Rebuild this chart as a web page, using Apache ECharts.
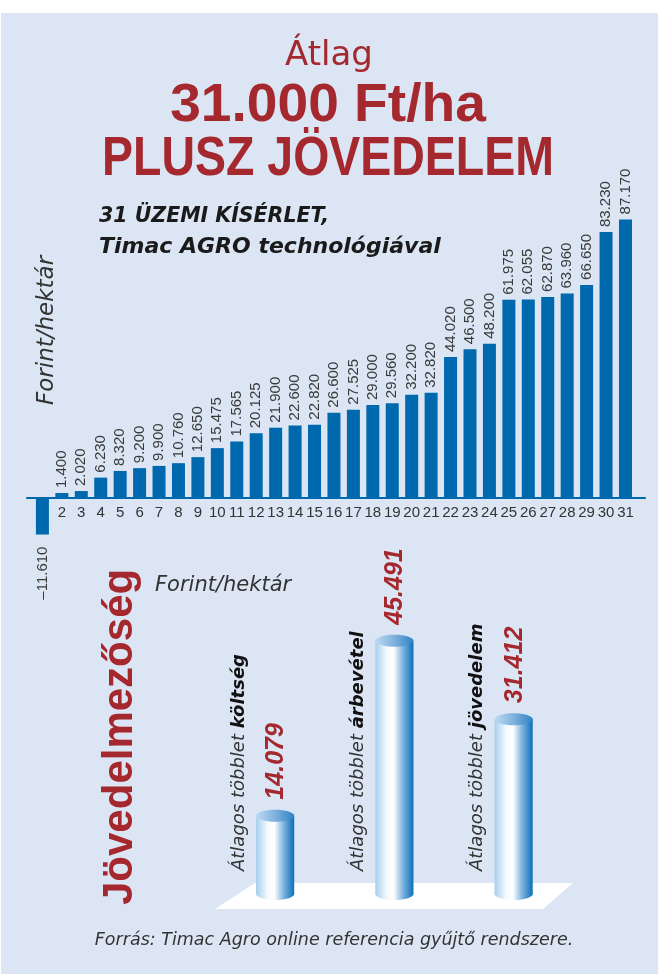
<!DOCTYPE html>
<html>
<head>
<meta charset="utf-8">
<script src="https://cdn.jsdelivr.net/npm/echarts@6/dist/echarts.min.js"></script>
<style>
  html, body { margin: 0; padding: 0; background: #fff; }
  #chart { width: 659px; height: 974px; }
</style>
</head>
<body>
<div id="chart"></div>
<script>
// 31 trials, extra income in Ft/ha
var trials = ['1','2','3','4','5','6','7','8','9','10','11','12','13','14','15','16',
  '17','18','19','20','21','22','23','24','25','26','27','28','29','30','31'];
var extraIncome = [-11610, 1400, 2020, 6230, 8320, 9200, 9900, 10760, 12650, 15475,
  17565, 20125, 21900, 22600, 22820, 26600, 27525, 29000, 29560, 32200, 32820,
  44020, 46500, 48200, 61975, 62055, 62870, 63960, 66650, 83230, 87170];

// averages, lower panel
var avgNames = ['költség', 'árbevétel', 'jövedelem'];
var avgValues = [14079, 45491, 31412];

var RED = '#a5282f';
var BLUE = '#0068ad';
var INK = '#333333';
var NUMFONT = "'Liberation Sans', sans-serif";

function huNum(v) {
  var s = String(Math.abs(v)).replace(/\B(?=(\d{3})+(?!\d))/g, '.');
  return v < 0 ? '\u2013' + s : s;
}

var myChart = echarts.init(document.getElementById('chart'));

var barData = extraIncome.map(function (v) {
  if (v < 0) {
    return { value: v, label: { position: 'bottom', align: 'right', distance: 12 } };
  }
  return v;
});

var cylData = avgValues.map(function (v, i) { return [i, v]; });

function renderCylinder(params, api) {
  var i = api.value(0);
  var top = api.coord([i, api.value(1)]);
  var base = api.coord([i, 0]);
  var w = api.size([1, 0])[0] * 0.32;
  var ry = 6;
  var cx = top[0];
  var bodyFill = new echarts.graphic.LinearGradient(0, 0, 1, 0, [
    { offset: 0, color: '#a6cfee' },
    { offset: 0.3, color: '#f4f9fd' },
    { offset: 0.48, color: '#ffffff' },
    { offset: 0.72, color: '#7fb3de' },
    { offset: 1, color: '#0a70ba' }
  ]);
  var capFill = new echarts.graphic.LinearGradient(0, 0, 1, 0, [
    { offset: 0, color: '#bcdaf2' },
    { offset: 0.5, color: '#7fb1dc' },
    { offset: 1, color: '#2f83c4' }
  ]);
  return {
    type: 'group',
    children: [
      { type: 'ellipse', shape: { cx: cx, cy: base[1], rx: w / 2, ry: ry }, style: { fill: bodyFill } },
      { type: 'rect', shape: { x: cx - w / 2, y: top[1], width: w, height: base[1] - top[1] }, style: { fill: bodyFill } },
      { type: 'ellipse', shape: { cx: cx, cy: top[1], rx: w / 2, ry: ry }, style: { fill: capFill } },
      {
        type: 'text', x: cx + 1, y: top[1] - ry - 10, rotation: Math.PI / 2,
        style: {
          text: huNum(api.value(1)), fill: RED, fontFamily: 'Liberation Sans',
          fontWeight: 'bold', fontStyle: 'italic', fontSize: 25,
          align: 'left', verticalAlign: 'middle'
        }
      },
      {
        type: 'text', x: cx - 36, y: base[1] - 23, rotation: Math.PI / 2,
        style: {
          text: '{n|\u00c1tlagos többlet }{b|' + avgNames[params.dataIndex] + '}',
          align: 'left', verticalAlign: 'middle',
          rich: {
            n: { fill: INK, fontFamily: 'DejaVu Sans', fontStyle: 'italic', fontSize: 18 },
            b: { fill: '#111', fontFamily: 'DejaVu Sans', fontStyle: 'italic', fontWeight: 'bold', fontSize: 18 }
          }
        }
      }
    ]
  };
}

myChart.setOption({
  backgroundColor: '#ffffff',
  animation: false,
  graphic: [
    { type: 'rect', z: -10, shape: { x: 1, y: 13, width: 657, height: 961 }, style: { fill: '#dbe5f3' } },
    { type: 'text', x: 329, y: 56, style: { text: '\u00c1tlag', fill: RED, fontFamily: 'DejaVu Sans', fontSize: 34, align: 'center', verticalAlign: 'middle' } },
    { type: 'text', x: 328, y: 106, scaleX: 1.04, style: { text: '31.000 Ft/ha', fill: RED, fontFamily: 'Liberation Sans', fontWeight: 'bold', fontSize: 53, align: 'center', verticalAlign: 'middle' } },
    { type: 'text', x: 328, y: 160, scaleX: 0.83, style: { text: 'PLUSZ JÖVEDELEM', fill: RED, fontFamily: 'Liberation Sans', fontWeight: 'bold', fontSize: 56, align: 'center', verticalAlign: 'middle' } },
    { type: 'text', x: 99, y: 217, style: { text: '31 ÜZEMI KÍSÉRLET,', fill: '#1a1a1a', fontFamily: 'DejaVu Sans', fontWeight: 'bold', fontStyle: 'italic', fontSize: 20.5, align: 'left', verticalAlign: 'middle' } },
    { type: 'text', x: 99, y: 247, style: { text: 'Timac AGRO technológiával', fill: '#1a1a1a', fontFamily: 'DejaVu Sans', fontWeight: 'bold', fontStyle: 'italic', fontSize: 22, align: 'left', verticalAlign: 'middle' } },
    { type: 'text', x: 47, y: 405, rotation: Math.PI / 2, style: { text: 'Forint/hektár', fill: INK, fontFamily: 'DejaVu Sans', fontStyle: 'italic', fontSize: 23, align: 'left', verticalAlign: 'middle' } },
    { type: 'text', x: 120, y: 905, rotation: Math.PI / 2, style: { text: 'Jövedelmezőség', fill: RED, fontFamily: 'Liberation Sans', fontWeight: 'bold', fontSize: 42, align: 'left', verticalAlign: 'middle' } },
    { type: 'text', x: 155, y: 586, style: { text: 'Forint/hektár', fill: INK, fontFamily: 'DejaVu Sans', fontStyle: 'italic', fontSize: 21, align: 'left', verticalAlign: 'middle' } },
    { type: 'polygon', z: 1, shape: { points: [[255, 883], [573, 883], [543, 909], [215, 909]] }, style: { fill: '#ffffff' } },
    { type: 'text', x: 334, y: 940, style: { text: 'Forrás: Timac Agro online referencia gyűjtő rendszere.', fill: INK, fontFamily: 'DejaVu Sans', fontStyle: 'italic', fontSize: 17.5, align: 'center', verticalAlign: 'middle' } }
  ],
  grid: [
    { left: 32.7, right: 23.8, top: 178.5, bottom: 476.5 },
    { left: 27, right: 14, top: 178.5, bottom: 476.5 },
    { left: 215.5, width: 357.75, bottom: 80, top: 560 }
  ],
  xAxis: [
    {
      type: 'category', gridIndex: 0, data: trials,
      axisLine: { show: false },
      axisTick: { show: false },
      axisLabel: {
        interval: 0, color: INK, fontFamily: NUMFONT, fontSize: 15, margin: 8,
        formatter: function (v) { return v === '1' ? '' : v; }
      }
    },
    {
      type: 'value', gridIndex: 1, min: 0, max: 1,
      axisLine: { show: true, lineStyle: { color: BLUE, width: 2 } },
      axisTick: { show: false }, axisLabel: { show: false }, splitLine: { show: false }
    },
    {
      type: 'category', gridIndex: 2, data: avgNames,
      axisLine: { show: false }, axisTick: { show: false }, axisLabel: { show: false }
    }
  ],
  yAxis: [
    { type: 'value', gridIndex: 0, min: 0, max: 100000, show: false },
    { type: 'value', gridIndex: 1, min: 0, max: 100000, show: false },
    { type: 'value', gridIndex: 2, min: 0, max: 60000, show: false }
  ],
  series: [
    {
      type: 'bar', xAxisIndex: 0, yAxisIndex: 0, data: barData, clip: false,
      barWidth: 13, itemStyle: { color: BLUE },
      label: {
        show: true, position: 'top', rotate: 90, align: 'left', verticalAlign: 'middle',
        distance: 5, color: '#3a3a3a', fontFamily: NUMFONT, fontSize: 15,
        formatter: function (p) { return huNum(p.value); }
      }
    },
    {
      type: 'custom', xAxisIndex: 2, yAxisIndex: 2, z: 5,
      renderItem: renderCylinder, data: cylData
    }
  ]
});
</script>
</body>
</html>
